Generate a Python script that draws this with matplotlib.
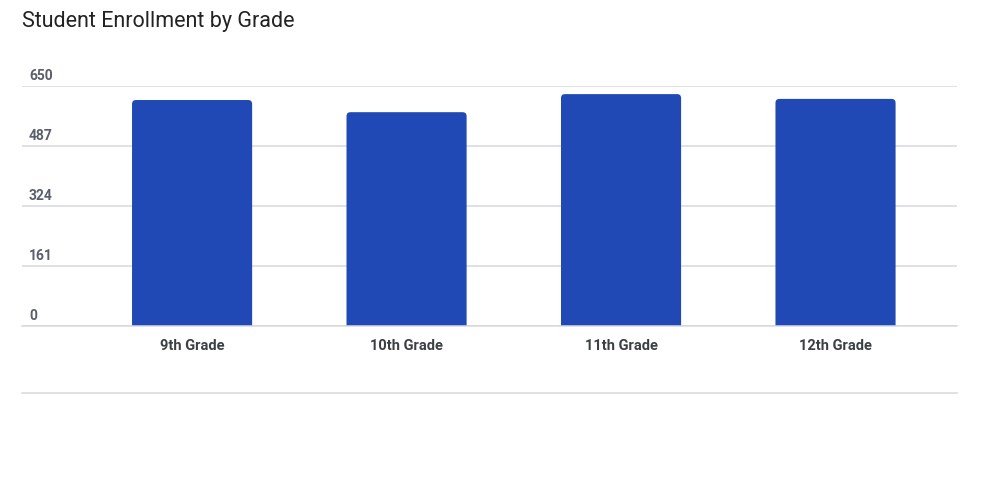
import matplotlib
matplotlib.use('Agg')
import matplotlib.pyplot as plt
import matplotlib.transforms as mtransforms
from matplotlib.lines import Line2D
from matplotlib.patches import FancyBboxPatch

plt.rcParams['font.family'] = ['Roboto', 'DejaVu Sans']

grades = ['9th Grade', '10th Grade', '11th Grade', '12th Grade']
enrollment = [612, 579, 628, 615]
y_ticks = [0, 162.5, 325, 487.5, 650]
y_labels = ['0', '161', '324', '487', '650']

W, H = 1000, 486
fig = plt.figure(figsize=(W / 100, H / 100), dpi=100)
left, right, top, bottom = 22, 956.7, 86, 325.7
ax = fig.add_axes([left / W, 1 - bottom / H, (right - left) / W, (bottom - top) / H])

bars = ax.bar(range(len(grades)), enrollment, width=0.56, color='#2149b6', zorder=3)

ax.set_xlim(-0.793, 3.565)
ax.set_ylim(0, 650)

# rounded top corners (~4 px)
px_x = (right - left) / (3.565 + 0.793)
px_y = (bottom - top) / 650
rx = 4 / px_x
ry = 4 / px_y
for b in bars:
    x, w, h = b.get_x(), b.get_width(), b.get_height()
    b.remove()
    ax.add_patch(FancyBboxPatch((x, -2 * ry), w, h + 2 * ry,
                                boxstyle=f'round,pad=0,rounding_size={rx}',
                                mutation_aspect=ry / rx,
                                facecolor='#2149b6', edgecolor='none', zorder=3))

ax.set_yticks(y_ticks)
ax.set_yticklabels([])
ax.grid(axis='y', color='#d7d9df', linewidth=1.1, zorder=0)
ax.tick_params(axis='y', length=0)
ax.set_xticks(range(len(grades)))
ax.set_xticklabels(grades, fontsize=10.5, fontweight='bold', color='#3c4043')
ax.tick_params(axis='x', length=0, pad=9.5)
for s in ['top', 'right', 'left']:
    ax.spines[s].set_visible(False)
ax.spines['bottom'].set_color('#d7d9df')
ax.spines['bottom'].set_linewidth(1.1)
ax.spines['bottom'].set_zorder(4)

off = mtransforms.ScaledTranslation(0, 3 / 100, fig.dpi_scale_trans)
for v, lab in zip(y_ticks, y_labels):
    ax.text(7 / (right - left), v, lab, transform=ax.get_yaxis_transform() + off,
            ha='left', va='bottom', fontsize=10, fontweight='bold', color='#5b5e6b')

fig.text(left / W, 1 - 27.5 / H, 'Student Enrollment by Grade', fontsize=15.5,
         color='#222222', ha='left', va='baseline')

fig.add_artist(Line2D([left / W, right / W], [1 - 393.3 / H] * 2,
                      color='#d7d9df', linewidth=1.1))

fig.savefig('out.png', dpi=100)
